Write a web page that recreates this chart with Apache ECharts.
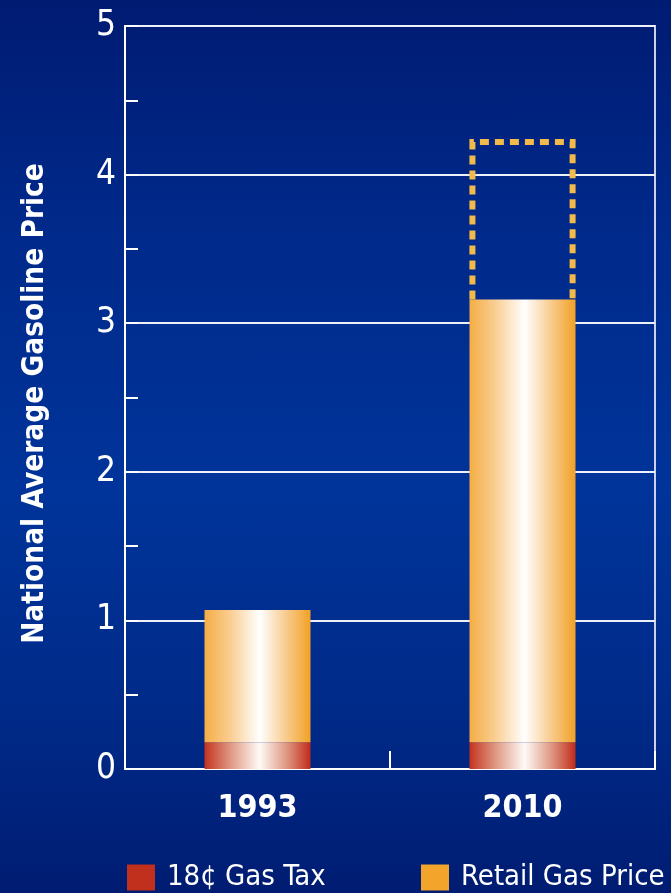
<!DOCTYPE html>
<html>
<head>
<meta charset="utf-8">
<script src="https://cdn.jsdelivr.net/npm/echarts@6/dist/echarts.min.js"></script>
<style>
html,body{margin:0;padding:0;}
#c{width:671px;height:893px;background:linear-gradient(to bottom,#001b72 0%,#00298a 25%,#00349a 55%,#002a88 80%,#001c72 100%);}
</style>
</head>
<body>
<div id="c"></div>
<script>
const categories = ['1993', '2010'];
const gasTax = [0.18, 0.18];
const retailPrice = [1.07, 3.16];
const dashedTop = [null, 4.22];
const yTicks = [0, 1, 2, 3, 4, 5];
const legendNames = ['18¢ Gas Tax', 'Retail Gas Price'];

const FONT = '"DejaVu Sans Condensed", "Liberation Sans Narrow", sans-serif';
const orangeGrad = new echarts.graphic.LinearGradient(0, 0, 1, 0, [
  {offset: 0, color: '#f5ad44'},
  {offset: 0.25, color: '#f9cf95'},
  {offset: 0.52, color: '#ffffff'},
  {offset: 0.78, color: '#f8c98a'},
  {offset: 1, color: '#f2a124'}
]);
const redGrad = new echarts.graphic.LinearGradient(0, 0, 1, 0, [
  {offset: 0, color: '#c4331f'},
  {offset: 0.25, color: '#e09a85'},
  {offset: 0.52, color: '#fffaf6'},
  {offset: 0.78, color: '#de9580'},
  {offset: 1, color: '#c02b1a'}
]);

const legendText = {color: '#ffffff', fontFamily: FONT, fontSize: 29, padding: [8, 0, 0, 7]};

const chart = echarts.init(document.getElementById('c'), null, {renderer: 'canvas'});
chart.setOption({
  backgroundColor: 'transparent',
  animation: false,
  grid: {left: 125, right: 16, top: 26, bottom: 124, show: true, borderColor: '#cfd0ea', borderWidth: 2},
  legend: [
    {
      left: 127, top: 863, itemWidth: 28, itemHeight: 26, icon: 'rect', padding: 0,
      textStyle: legendText,
      data: [{name: legendNames[0], itemStyle: {color: '#c12f1d'}}]
    },
    {
      left: 421, top: 863, itemWidth: 28, itemHeight: 26, icon: 'rect', padding: 0,
      textStyle: legendText,
      data: [{name: legendNames[1], itemStyle: {color: '#f3a52b'}}]
    }
  ],
  xAxis: {
    type: 'category',
    data: categories,
    axisLine: {lineStyle: {color: '#ffffff', width: 2}},
    axisTick: {show: true, inside: true, length: 18, lineStyle: {color: '#ffffff', width: 2}},
    axisLabel: {color: '#ffffff', fontFamily: FONT, fontWeight: 'bold', fontSize: 32, margin: 24},
    splitLine: {show: false}
  },
  yAxis: {
    type: 'value',
    min: yTicks[0], max: yTicks[yTicks.length - 1], interval: 1,
    name: 'National Average Gasoline Price',
    nameLocation: 'middle', nameRotate: 90, nameGap: 75,
    nameTextStyle: {color: '#ffffff', fontFamily: FONT, fontWeight: 'bold', fontSize: 29.5, padding: [0, 12, 0, 0]},
    axisLine: {show: true, lineStyle: {color: '#ffffff', width: 2}},
    axisTick: {show: true, inside: true, length: 13, lineStyle: {color: '#ffffff', width: 2}},
    minorTick: {show: true, splitNumber: 2, length: 13, lineStyle: {color: '#ffffff', width: 2}},
    axisLabel: {color: '#ffffff', fontFamily: FONT, fontSize: 35, margin: 9},
    splitLine: {show: true, lineStyle: {color: '#eef0fa', width: 2}}
  },
  series: [
    {
      type: 'custom',
      name: 'dashed',
      z: 1,
      renderItem: function (params, api) {
        const xi = api.value(0);
        const lo = api.value(1);
        const hi = api.value(2);
        const p0 = api.coord([xi, lo]);
        const p1 = api.coord([xi, hi]);
        const w = api.size([1, 0])[0] * 0.378;
        return {
          type: 'polyline',
          shape: {points: [[p0[0] - w / 2, p0[1]], [p1[0] - w / 2, p1[1]], [p1[0] + w / 2, p1[1]], [p0[0] + w / 2, p0[1]]]},
          style: {stroke: '#f2ba4a', lineWidth: 6, lineDash: [9, 6], fill: null}
        };
      },
      data: dashedTop.map((v, i) => v == null ? null : [i, retailPrice[i], v]).filter(d => d)
    },
    {
      type: 'bar', name: legendNames[0], stack: 'p', barWidth: '40%', z: 3,
      itemStyle: {color: redGrad},
      data: gasTax
    },
    {
      type: 'bar', name: legendNames[1], stack: 'p', barWidth: '40%', z: 3,
      itemStyle: {color: orangeGrad},
      data: retailPrice.map((v, i) => +(v - gasTax[i]).toFixed(2))
    }
  ]
});
</script>
</body>
</html>
